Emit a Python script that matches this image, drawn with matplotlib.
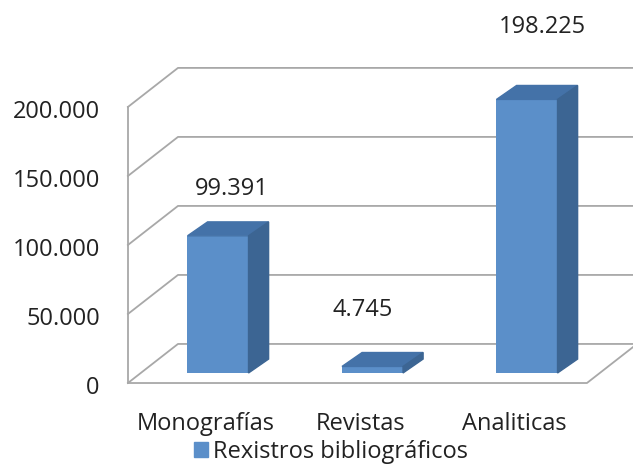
import matplotlib.pyplot as plt
from matplotlib.patches import Polygon, Patch

categories = ["Monografías", "Revistas", "Analiticas"]
values = [99391, 4745, 198225]
labels = ["99.391", "4.745", "198.225"]
yticks = [0, 50000, 100000, 150000, 200000]
ytick_labels = ["0", "50.000", "100.000", "150.000", "200.000"]
series_name = "Rexistros bibliográficos"

plt.rcParams['font.family'] = ['Open Sans', 'DejaVu Sans']
fs = 17

front_col = "#5b8fc9"
top_col = "#4472a8"
side_col = "#3c6593"
grid_col = "#a8a8a8"
text_col = "#222222"

# fake 3d: depth offsets in data units
wall_dx, wall_dy = 0.324, 28300
bar_dx, bar_dy = 0.13, 10100
bar_w = 0.395
base = 7250
x_left, x_right = -0.583, 2.388

fig = plt.figure(figsize=(6.33, 4.73), dpi=100)
ax = fig.add_axes([0, 0, 1, 1])
ax.set_xlim(-1.411, 2.686)
ax.set_ylim(-65200, 277500)
ax.axis('off')

# walls and gridlines
for v in yticks:
    ax.plot([x_left, x_left + wall_dx, x_right + wall_dx + 0.05],
            [v, v + wall_dy, v + wall_dy], color=grid_col, lw=1.3, zorder=1)
ax.plot([x_left, x_left], [0, 200000], color=grid_col, lw=1.3, zorder=1)
ax.plot([x_left, x_right, x_right + wall_dx], [0, 0, wall_dy],
        color=grid_col, lw=1.3, zorder=1)

# bars
xs = list(range(len(categories)))
ax.bar(xs, values, bottom=base, width=bar_w, color=front_col, zorder=3)
for x, v in zip(xs, values):
    l, r, b, t = x - bar_w / 2, x + bar_w / 2, base, base + v
    top = [(l, t), (r, t), (r + bar_dx, t + bar_dy), (l + bar_dx, t + bar_dy)]
    side = [(r, b), (r + bar_dx, b + bar_dy), (r + bar_dx, t + bar_dy), (r, t)]
    ax.add_patch(Polygon(top, closed=True, color=top_col, zorder=3))
    ax.add_patch(Polygon(side, closed=True, color=side_col, zorder=3))

# value labels
label_offsets = [(10, 34), (-7, 41), (11, 52)]
for x, v, lab, off in zip(xs, values, labels, label_offsets):
    ax.annotate(lab, (x, base + v), xytext=off, textcoords='offset points',
                ha='center', va='center', fontsize=fs, color=text_col)

# y tick labels on the front plane
for v, lab in zip(yticks, ytick_labels):
    ax.text(-0.765, v - 3500, lab, ha='right', va='center', fontsize=fs,
            color=text_col)

# category labels
for x, c in zip(xs, categories):
    ax.text(x - 0.08, -29500, c, ha='center', va='center', fontsize=fs,
            color=text_col)

ax.legend(handles=[Patch(color=front_col, label=series_name)],
          loc='center', bbox_to_anchor=(0.523, 0.045), frameon=False,
          fontsize=fs, handlelength=0.6, handleheight=0.6,
          handletextpad=0.2, labelcolor=text_col)

plt.savefig("out.png", dpi=100)
